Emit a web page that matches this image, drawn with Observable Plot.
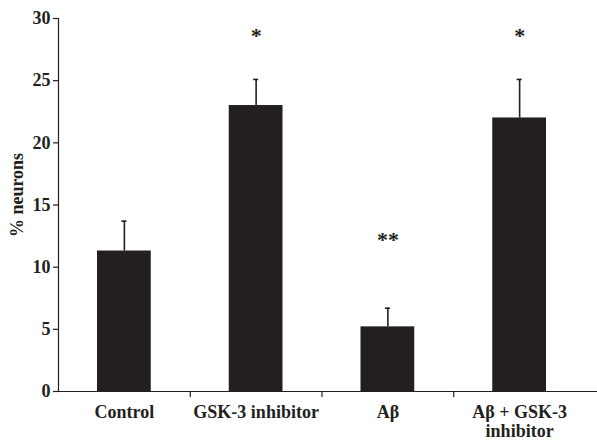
<!DOCTYPE html>
<html>
<head>
<meta charset="utf-8">
<script src="https://cdn.jsdelivr.net/npm/d3@7"></script>
<script src="https://cdn.jsdelivr.net/npm/@observablehq/plot@0.6"></script>
<style>
  html, body { margin: 0; padding: 0; background: #ffffff; }
</style>
</head>
<body>
<div id="chart"></div>
<script>
const categories = ["Control", "GSK-3 inhibitor", "Aβ", "Aβ + GSK-3\ninhibitor"];
const means = [11.3, 23.0, 5.2, 22.0];
const upper = [13.7, 25.1, 6.7, 25.1];
const stars = ["", "*", "**", "*"];
const starLevel = [null, 28.6, 12.2, 28.6];
const yTicks = [0, 5, 10, 15, 20, 25, 30];
const yLabel = "% neurons";

const idx = categories.map((_, i) => i);
const ink = "#231f20";

const chart = Plot.plot({
  width: 597,
  height: 442,
  marginLeft: 58,
  marginRight: 12,
  marginTop: 18,
  marginBottom: 51,
  x: {type: "linear", domain: [0, categories.length], axis: null},
  y: {type: "linear", domain: [0, 30], axis: null},
  style: {fontFamily: "'Liberation Serif', 'Times New Roman', serif", fontWeight: "bold", color: ink, background: "#ffffff", overflow: "visible"},
  marks: [
    Plot.rectY(idx, {x1: i => i, x2: i => i + 1, y1: 0, y2: i => means[i], fill: ink, insetLeft: 39, insetRight: 39}),
    Plot.ruleX(idx, {x: i => i + 0.5, y1: i => means[i], y2: i => upper[i], stroke: ink, strokeWidth: 1.6}),
    Plot.ruleY(idx, {y: i => upper[i], x1: i => i + 0.5, x2: i => i + 0.5, insetLeft: -2.5, insetRight: -2.5, stroke: ink, strokeWidth: 1.6}),
    Plot.text(idx.filter(i => stars[i]), {x: i => i + 0.5, y: i => starLevel[i], text: i => stars[i], fontSize: 22, fill: ink}),
    Plot.ruleY([0], {stroke: ink, strokeWidth: 1.2, insetRight: -12}),
    Plot.ruleX([0], {y1: 0, y2: 30, stroke: ink, strokeWidth: 1.2}),
    Plot.axisY({ticks: yTicks, tickSize: 5, tickPadding: 3, fontSize: 18, fontWeight: "bold", stroke: ink, strokeWidth: 1.2}),
    Plot.axisX({ticks: [1, 2, 3], tickFormat: () => "", tickSize: 6, stroke: ink, strokeWidth: 1.2}),
    Plot.text(idx, {x: i => i + 0.5, frameAnchor: "bottom", text: i => categories[i], lineAnchor: "top", dy: 13, fontSize: 18, lineHeight: 1.06, fill: ink}),
    Plot.text([yLabel], {frameAnchor: "left", textAnchor: "middle", text: d => d, rotate: -90, dx: -41, dy: -10, fontSize: 18, fill: ink})
  ]
});
document.getElementById("chart").appendChild(chart);
</script>
</body>
</html>
